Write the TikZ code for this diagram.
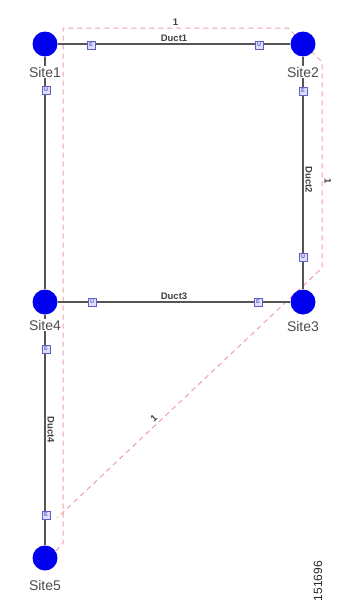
\documentclass[tikz,border=0pt]{standalone}
\usepackage{fontspec}
\setmainfont{Liberation Sans}
\usepackage{tikz}

\definecolor{sitecol}{RGB}{0,0,238}
\definecolor{ductcol}{RGB}{85,85,85}
\definecolor{routecol}{RGB}{240,160,165}
\definecolor{portcol}{RGB}{95,95,205}
\definecolor{portfill}{RGB}{222,222,248}

\begin{document}
\begin{tikzpicture}[x=1pt, y=-1pt,
    site/.style={circle, fill=sitecol, minimum size=25pt, inner sep=0pt},
    sitelabel/.style={fill=white, text=black!70, inner sep=1pt, font=\fontsize{14}{14}\selectfont},
    duct/.style={draw=ductcol, line width=2pt},
    ductlabel/.style={text=black!75, inner sep=1.5pt, font=\fontsize{9.5}{9.5}\selectfont\bfseries},
    route/.style={draw=routecol, dashed, dash pattern=on 5pt off 4pt, line width=1pt},
    routelabel/.style={text=black!75, inner sep=2pt, font=\fontsize{9.5}{9.5}\selectfont\bfseries},
    port/.style={rectangle, draw=portcol, fill=portfill, minimum size=8.5pt, inner sep=0pt, text=portcol, font=\fontsize{5.5}{5.5}\selectfont\bfseries}]

    \useasboundingbox (0,0) rectangle (344,605);

    \draw[route] (56,551) -- (63,543) -- (63,28)
        -- node[routelabel, above] {1} (288,28) -- (322,62)
        -- node[routelabel, pos=0.58, rotate=-90, anchor=south] {1} (322,268)
        -- node[routelabel, pos=0.62, above, sloped] {1} (57,518);

    \node[site] (S1) at (45,44) {};
    \node[site] (S2) at (303,44) {};
    \node[site] (S3) at (303,302) {};
    \node[site] (S4) at (45,302) {};
    \node[site] (S5) at (45,558) {};

    \draw[duct] (S1) -- node[ductlabel, above] {Duct1} (S2);
    \draw[duct] (S2) -- node[ductlabel, pos=0.53, rotate=-90, anchor=south] {Duct2} (S3);
    \draw[duct] (S4) -- node[ductlabel, above] {Duct3} (S3);
    \draw[duct] (S4) -- node[ductlabel, rotate=-90, anchor=south] {Duct4} (S5);
    \draw[duct] (S1) -- (S4);

    \node[sitelabel] (L1) at (45,72) {Site1};
    \node[sitelabel] (L2) at (303,72) {Site2};
    \node[sitelabel] (L3) at (303,326) {Site3};
    \node[sitelabel] (L4) at (45,325) {Site4};
    \node[sitelabel] (L5) at (45,585) {Site5};

    \node[port] (E1) at (91,45) {E};
    \node[port] (U1) at (259,45) {U};
    \node[port] (U2) at (46,90) {U};
    \node[port] (E2) at (303,91) {E};
    \node[port] (U3) at (303,257) {U};
    \node[port] (U4) at (92,302) {U};
    \node[port] (E3) at (258,302) {E};
    \node[port] (E4) at (46,349) {E};
    \node[port] (E5) at (46,515) {E};

    \node[rotate=90, text=black!85, font=\fontsize{12}{12}\selectfont] (ID) at (318,581) {151696};
\end{tikzpicture}
\end{document}
